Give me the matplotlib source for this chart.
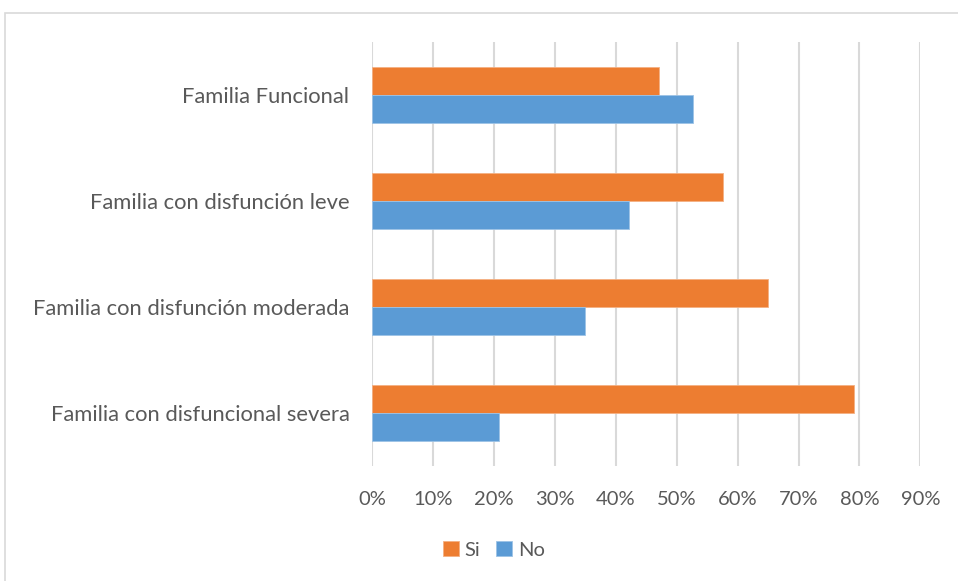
import numpy as np
import matplotlib.pyplot as plt
from matplotlib.patches import Rectangle

categories = ["Familia Funcional", "Familia con disfunción leve",
              "Familia con disfunción moderada", "Familia con disfuncional severa"]
si_values = [47.1, 57.6, 65.0, 79.1]
no_values = [52.7, 42.2, 34.9, 20.8]
tick_labels = ["0%", "10%", "20%", "30%", "40%", "50%", "60%", "70%", "80%", "90%"]

plt.rcParams['font.family'] = ['Lato', 'DejaVu Sans']

W, H = 958, 581
fig = plt.figure(figsize=(W / 100, H / 100), dpi=100)
ax = fig.add_axes([372.3 / W, 1 - 466 / H, 548 / W, 424 / H])

# outer chart border
fig.patches.append(Rectangle((5 / W, -0.1), 1.2, 1 - 13 / H + 0.1, transform=fig.transFigure,
                             fill=False, edgecolor="#D9D9D9", linewidth=1.2))

y = np.arange(len(categories))
h = 0.26
ax.barh(y - h / 2, si_values, height=h, color="#ED7D31", edgecolor="#F4B183", linewidth=0.6, label="Si", zorder=3)
ax.barh(y + h / 2, no_values, height=h, color="#5B9BD5", edgecolor="#9DC3E6", linewidth=0.6, label="No", zorder=3)

ax.set_xlim(0, 90)
ax.set_ylim(3.5, -0.5)
ax.set_xticks(np.arange(0, 91, 10))
ax.set_xticklabels(tick_labels)
ax.set_yticks(y)
ax.set_yticklabels(categories)
ax.grid(axis="x", color="#D9D9D9", linewidth=1.5, zorder=0)
ax.tick_params(length=0, labelcolor="#595959")
ax.tick_params(axis="x", pad=18, labelsize=14.5)
ax.tick_params(axis="y", pad=16.5, labelsize=15.8)
for s in ax.spines.values():
    s.set_visible(False)

handles, labels = ax.get_legend_handles_labels()
fig.legend(handles, labels, loc="center", bbox_to_anchor=(494 / W, 1 - 550 / H), ncol=2,
           frameon=False, fontsize=14.5, labelcolor="#595959", handlelength=0.75, handleheight=0.75,
           handletextpad=0.3, columnspacing=0.8)

fig.savefig("out.png", dpi=100)
